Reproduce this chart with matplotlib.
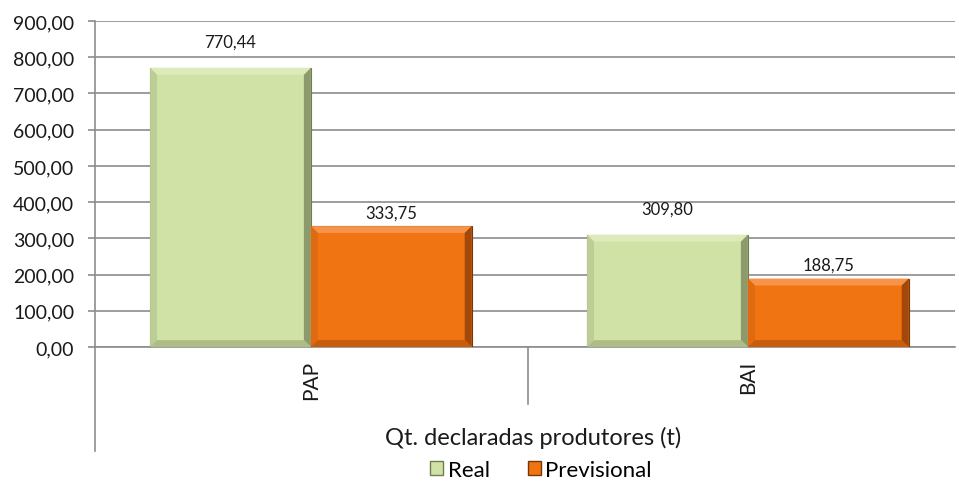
import numpy as np
import matplotlib.pyplot as plt
from matplotlib.patches import Polygon
from matplotlib.lines import Line2D

categories = ["PAP", "BAI"]
real = [770.44, 309.80]
previsional = [333.75, 188.75]
series_names = ["Real", "Previsional"]
y_ticks = [0, 100, 200, 300, 400, 500, 600, 700, 800, 900]

plt.rcParams['font.family'] = ['Lato', 'DejaVu Sans']

fig = plt.figure(figsize=(9.59, 4.85), dpi=100)
ax = fig.add_axes([95 / 959, 137 / 485, 860 / 959, 326 / 485])

x = np.arange(len(categories))
w = 0.368
green, green_edge = "#d0e2a6", "#6f7d52"
orange, orange_edge = "#f07512", "#7a3604"
b1 = ax.bar(x - w / 2, real, w, color=green, edgecolor=green_edge, linewidth=0.8, zorder=3)
b2 = ax.bar(x + w / 2, previsional, w, color=orange, edgecolor=orange_edge, linewidth=0.8, zorder=3)


def bevel(bars, light, dark, side, low):
    # fake the bevel look with four trapezoids
    for r in bars:
        x0, y0 = r.get_x(), r.get_y()
        x1, y1 = x0 + r.get_width(), y0 + r.get_height()
        dx, dy = 0.016, 19
        top = [(x0, y1), (x1, y1), (x1 - dx, y1 - dy), (x0 + dx, y1 - dy)]
        right = [(x1, y1), (x1, y0), (x1 - dx, y0 + dy), (x1 - dx, y1 - dy)]
        left = [(x0, y1), (x0, y0), (x0 + dx, y0 + dy), (x0 + dx, y1 - dy)]
        bottom = [(x0, y0), (x1, y0), (x1 - dx, y0 + dy), (x0 + dx, y0 + dy)]
        ax.add_patch(Polygon(top, color=light, lw=0, zorder=4))
        ax.add_patch(Polygon(right, color=dark, lw=0, zorder=4))
        ax.add_patch(Polygon(left, color=side, lw=0, zorder=4))
        ax.add_patch(Polygon(bottom, color=low, lw=0, zorder=4))


bevel(b1, "#dcebb9", "#8d9b6c", "#bccd95", "#aebd85")
bevel(b2, "#f6944a", "#a2480a", "#e06a0f", "#c85d0c")

# label offsets (points above the bar top) as they sit in the original
for bars, vals, off in ((b1, real, 19), (b2, previsional, 10)):
    for r, v in zip(bars, vals):
        ax.annotate(f"{v:.2f}".replace(".", ","), (r.get_x() + r.get_width() / 2, v),
                    xytext=(0, off), textcoords="offset points",
                    ha="center", va="center", fontsize=12, color="#1a1a1a")

ax.set_xlim(-0.494, 1.474)
ax.set_ylim(0, 900)
ax.set_yticks(y_ticks)
ax.set_yticklabels([f"{t:.2f}".replace(".", ",") for t in y_ticks], fontsize=14, color="#1a1a1a")
ax.yaxis.grid(True, color="#8c8c8c", linewidth=1.2, zorder=0)
ax.set_axisbelow(True)
ax.tick_params(axis="y", length=5, width=1.2, color="#8c8c8c", pad=10)
ax.set_xticks([])
for s in ("top", "right"):
    ax.spines[s].set_visible(False)
ax.spines["left"].set_color("#8c8c8c")
ax.spines["left"].set_linewidth(1.2)
ax.spines["bottom"].set_color("#8c8c8c")
ax.spines["bottom"].set_linewidth(1.2)

# category axis below the plot
trans = ax.get_xaxis_transform()
ax.add_line(Line2D([-0.494, -0.494], [0, -0.32], transform=trans, color="#8c8c8c", lw=1.2, clip_on=False))
ax.add_line(Line2D([0.497, 0.497], [0, -0.175], transform=trans, color="#8c8c8c", lw=1.2, clip_on=False))
for xi, c in zip(x, categories):
    ax.text(xi, -0.04, c, transform=trans, rotation=90, ha="center", va="top", fontsize=15,
            color="#1a1a1a")

fig.text(533 / 959, 1 - 438 / 485, "Qt. declaradas produtores (t)", ha="center", va="center",
         fontsize=17, color="#1a1a1a")

handles = [plt.Rectangle((0, 0), 1, 1, facecolor=green, edgecolor=green_edge),
           plt.Rectangle((0, 0), 1, 1, facecolor=orange, edgecolor=orange_edge)]
fig.legend(handles, series_names, loc="center", bbox_to_anchor=(541 / 959, 1 - 471 / 485), ncol=2,
           frameon=False, fontsize=16, handlelength=0.6, handleheight=0.6, handletextpad=0.2,
           columnspacing=1.7)

fig.savefig("out.png", dpi=100)
